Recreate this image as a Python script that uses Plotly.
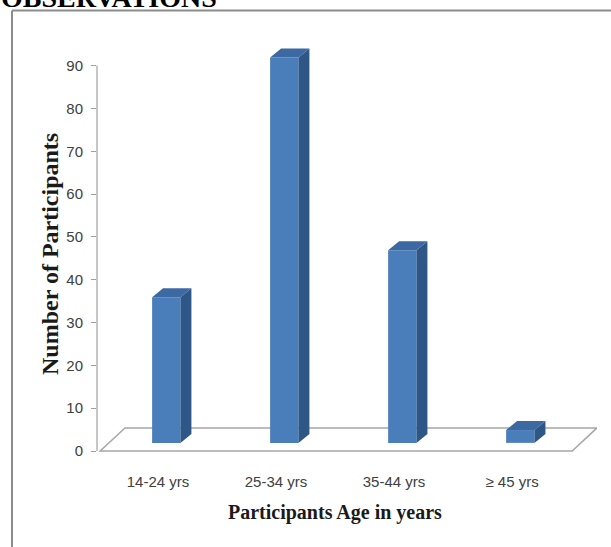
import plotly.graph_objects as go

# ---- data ----
categories = ["14-24 yrs", "25-34 yrs", "35-44 yrs", "\u2265 45 yrs"]
participants = [34, 90, 45, 3]
y_ticks = [0, 10, 20, 30, 40, 50, 60, 70, 80, 90]

# ---- styling / geometry constants ----
W, H = 611, 547
ML, MR, MT, MB = 97, 14, 40, 92
X_RANGE = [-0.517, 3.72]
Y_RANGE = [-0.93, 96.0]

BAR_W = 0.24          # front-face width (x units)
BAR_OFF = -0.05       # left edge offset from category position
BASE = 1.9            # bars stand mid-depth on the floor
DX, DY = 0.093, 2.1   # 3D depth of bars
FLOOR_DX, FLOOR_DY = 0.21, 5.4

FRONT = "#4A7EBB"
SIDE = "#2E5687"
TOP = "#3D69A3"

xs = list(range(len(categories)))

fig = go.Figure()

# front faces
fig.add_trace(go.Bar(
    x=xs, y=participants, base=[BASE] * len(xs),
    width=BAR_W, offset=BAR_OFF,
    marker=dict(color=FRONT, line=dict(width=0)),
    hoverinfo="skip", showlegend=False,
))

# side faces and top faces derived from the values
side_x, side_y, top_x, top_y = [], [], [], []
for x, v in zip(xs, participants):
    l = x + BAR_OFF
    r = l + BAR_W
    b = BASE
    t = BASE + v
    side_x += [r, r + DX, r + DX, r, r, None]
    side_y += [b, b + DY, t + DY, t, b, None]
    top_x += [l, l + DX, r + DX, r, l, None]
    top_y += [t, t + DY, t + DY, t, t, None]

fig.add_trace(go.Scatter(x=side_x, y=side_y, mode="lines", fill="toself",
                         fillcolor=SIDE, line=dict(width=0, color=SIDE),
                         hoverinfo="skip", showlegend=False))
fig.add_trace(go.Scatter(x=top_x, y=top_y, mode="lines", fill="toself",
                         fillcolor=TOP, line=dict(width=0, color=TOP),
                         hoverinfo="skip", showlegend=False))

# floor (below traces)
fx0 = -0.49
fx1 = len(categories) - 0.49
floor_path = (f"M {fx0},0 L {fx1},0 L {fx1 + FLOOR_DX},{FLOOR_DY} "
              f"L {fx0 + FLOOR_DX},{FLOOR_DY} Z")
fig.add_shape(type="path", path=floor_path, xref="x", yref="y", layer="below",
              line=dict(color="#A6A6A6", width=1.5), fillcolor="white")

# y axis line (0 to 90)
fig.add_shape(type="line", xref="paper", yref="y", x0=0, x1=0,
              y0=0, y1=y_ticks[-1], line=dict(color="#A0A0A0", width=1.2))

# outer frame (only top and left edges visible)
plot_w = W - ML - MR
plot_h = H - MT - MB
def px_to_paper_x(px):
    return (px - ML) / plot_w
def px_to_paper_y(py):
    return (H - MB - py) / plot_h

fx_left = px_to_paper_x(12)
fy_top = px_to_paper_y(10.5)
fig.add_shape(type="line", xref="paper", yref="paper",
              x0=fx_left, x1=fx_left, y0=px_to_paper_y(H + 2), y1=fy_top,
              line=dict(color="#8C8C8C", width=2))
fig.add_shape(type="line", xref="paper", yref="paper",
              x0=fx_left, x1=px_to_paper_x(W + 2), y0=fy_top, y1=fy_top,
              line=dict(color="#8C8C8C", width=2))

serif = "Liberation Serif, Times New Roman, serif"
sans = "Liberation Sans, Arial, sans-serif"

# heading cut off at the top of the page
fig.add_annotation(text="<b>OBSERVATIONS</b>", xref="paper", yref="paper",
                   x=px_to_paper_x(-1), y=px_to_paper_y(15),
                   xanchor="left", yanchor="bottom", showarrow=False,
                   font=dict(family=serif, size=28, color="black"))

# axis titles
fig.add_annotation(text="<b>Participants Age in years</b>", xref="paper", yref="paper",
                   x=px_to_paper_x(335), y=px_to_paper_y(512),
                   xanchor="center", yanchor="middle", showarrow=False,
                   font=dict(family=serif, size=20, color="#1a1a1a"))
fig.add_annotation(text="<b>Number of Participants</b>", xref="paper", yref="paper",
                   x=px_to_paper_x(50), y=px_to_paper_y(254),
                   xanchor="center", yanchor="middle", showarrow=False,
                   textangle=-90,
                   font=dict(family=serif, size=24, color="#1a1a1a"))

fig.update_layout(
    width=W, height=H,
    margin=dict(l=ML, r=MR, t=MT, b=MB, pad=0),
    paper_bgcolor="white", plot_bgcolor="white",
    showlegend=False,
    xaxis=dict(range=X_RANGE, tickvals=xs, ticktext=categories,
               showgrid=False, zeroline=False, showline=False, ticks="",
               ticklabelstandoff=16,
               tickfont=dict(family=sans, size=15, color="#404040")),
    yaxis=dict(range=Y_RANGE, tickvals=y_ticks, showgrid=False, zeroline=False,
               showline=False, ticks="outside", ticklen=5, tickwidth=1,
               tickcolor="#A0A0A0", ticklabelstandoff=5,
               tickfont=dict(family=sans, size=15, color="#404040")),
)

fig.write_html("out.html",
               config={"displayModeBar": False},
               post_script="document.body.style.margin='0';")
